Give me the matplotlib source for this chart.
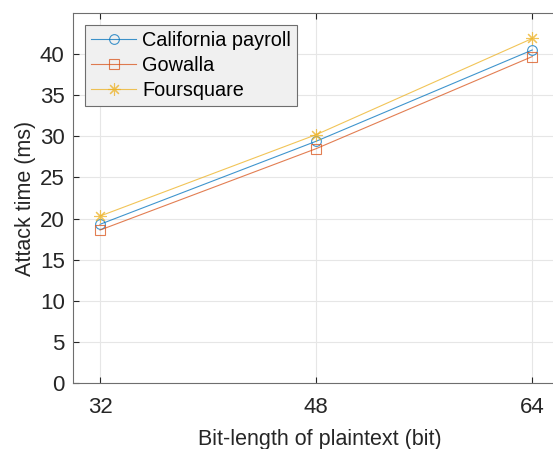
import matplotlib
matplotlib.use('Agg')
import matplotlib.pyplot as plt

# ----------------------------------------------------------------------------------------------------------------------
#  DATA
# ----------------------------------------------------------------------------------------------------------------------
bit_length  = [32, 48, 64]
california  = [19.3, 29.4, 40.5]
gowalla     = [18.6, 28.5, 39.7]
foursquare  = [20.3, 30.2, 41.9]
series_tags = ['California payroll', 'Gowalla', 'Foursquare']

# ----------------------------------------------------------------------------------------------------------------------
#  PLOT
# ----------------------------------------------------------------------------------------------------------------------
plt.rcParams.update({'font.family': ['Liberation Sans', 'DejaVu Sans'],
                     'axes.labelsize': 15.5,
                     'xtick.labelsize': 16,
                     'ytick.labelsize': 16})

line_colors = ['#0072bd', '#d95319', '#edb120']
markers     = ['o', 's', (8, 2, 0)]
mk_sizes    = [7, 7, 9]

fig = plt.figure(figsize=(5.53, 4.49), dpi=100)
axis_1 = fig.add_axes([73/553, 1 - 383/449, 493/553, 370/449])

for values, color, marker, ms, tag in zip([california, gowalla, foursquare], line_colors, markers, mk_sizes, series_tags):
    axis_1.plot(bit_length, values, color=color, marker=marker, markersize=ms,
                markerfacecolor='none', markeredgewidth=0.8, linewidth=0.8, alpha=0.75, label=tag)

axis_1.set_xlim(30, 66.5)
axis_1.set_ylim(0, 45)
axis_1.set_xticks(bit_length)
axis_1.set_yticks(range(0, 45, 5))
axis_1.grid(True, color='#e6e6e6', linewidth=0.8)
axis_1.set_axisbelow(True)
axis_1.tick_params(axis='both', direction='in', length=4, width=0.8, colors='#262626', top=True, right=True)
axis_1.tick_params(axis='x', pad=10)
axis_1.tick_params(axis='y', pad=6)
for spine in axis_1.spines.values():
    spine.set_color('#6e6e6e')
    spine.set_linewidth(0.8)

axis_1.set_xlabel('Bit-length of plaintext (bit)', color='#262626', labelpad=8)
axis_1.set_ylabel('Attack time (ms)', color='#262626', labelpad=3)

leg = axis_1.legend(loc='upper left', bbox_to_anchor=(0.024, 0.968), fontsize=14.3, frameon=True,
                    fancybox=False, handlelength=2.3, handletextpad=0.3, borderpad=0.3,
                    labelspacing=0.3, borderaxespad=0)
leg.get_frame().set_facecolor('#f0f0f0')
leg.get_frame().set_edgecolor('#6e6e6e')
leg.get_frame().set_linewidth(0.8)
leg.get_frame().set_alpha(1)

fig.savefig('out.png', dpi=100)
